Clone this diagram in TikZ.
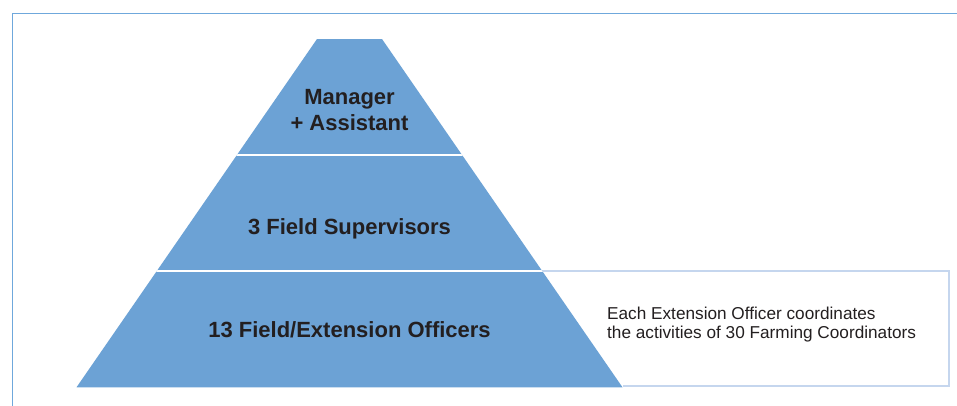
\documentclass[tikz,border=0pt]{standalone}
\usepackage{fontspec}
\setmainfont{Liberation Sans}
\definecolor{pyr}{RGB}{108,162,213}
\definecolor{frameblue}{RGB}{111,168,220}
\definecolor{boxblue}{RGB}{197,214,238}
\definecolor{txt}{RGB}{35,31,32}
\tikzset{
  lvl/.style={text=txt, font=\fontsize{22}{26}\selectfont\bfseries, align=center, inner sep=0pt, anchor=base},
  note/.style={text=txt, font=\fontsize{17.2}{18.8}\selectfont, align=left, inner sep=0pt, anchor=base west},
  notebox/.style={inner sep=0pt, anchor=north west, minimum width=408pt, minimum height=114.6pt},
  boxline/.style={draw=boxblue, line width=2pt},
  gap/.style={white, line width=2.4pt}
}
\begin{document}
\begin{tikzpicture}[x=1pt,y=-1pt]
\useasboundingbox (0,0) rectangle (957,405);
\fill[white] (0,0) rectangle (957,405);
\draw[frameblue, line width=1.6pt] (12.5,406) -- (12.5,13.5) -- (958,13.5);
\coordinate (tl) at (317,39);
\coordinate (tr) at (382,39);
\coordinate (br) at (622.5,387.3);
\coordinate (bl) at (76.5,387.3);
\node[notebox] (box) at (541,271.2) {};
\draw[boxline] (box.north west) -- (box.north east) -- (box.south east) -- (br |- box.south);
\fill[pyr] (tl) -- (tr) -- (br) -- (bl) -- cycle;
\begin{scope}
\clip (tl) -- (tr) -- (br) -- (bl) -- cycle;
\draw[gap] (60,155.2) -- (640,155.2);
\draw[gap] (60,271.2) -- (640,271.2);
\end{scope}
\node[lvl] (mgr) at (349.5,130) {Manager\\+ Assistant};
\node[lvl] (sup) at (349.5,234) {3 Field Supervisors};
\node[lvl] (ext) at (349.5,337) {13 Field/Extension Officers};
\node[note] (desc) at (607,338.5) {Each Extension Officer coordinates\\the activities of 30 Farming Coordinators};
\end{tikzpicture}
\end{document}
